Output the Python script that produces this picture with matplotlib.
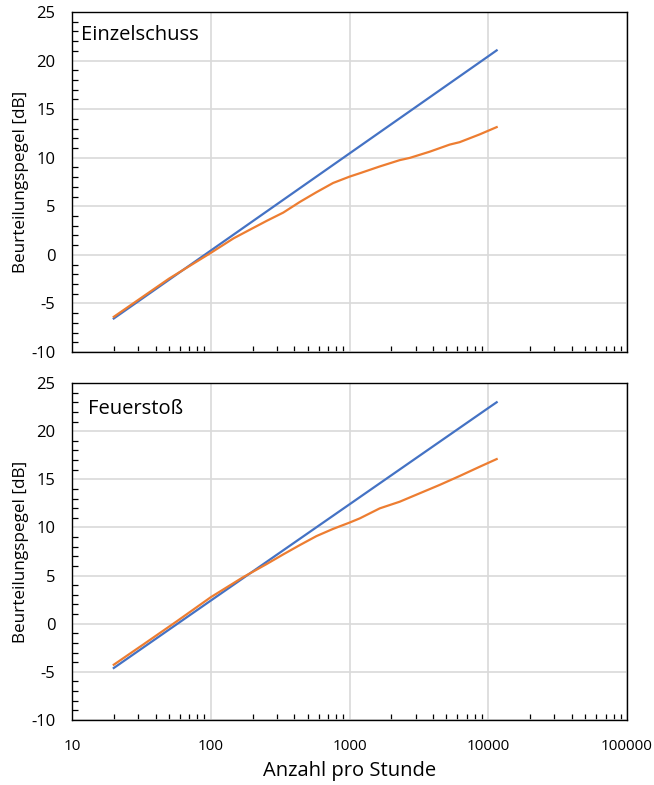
import matplotlib
matplotlib.use("Agg")
import matplotlib.pyplot as plt
from matplotlib.ticker import FixedLocator, LogLocator, MultipleLocator, NullFormatter

plt.rcParams['font.family'] = ['Open Sans', 'DejaVu Sans']
plt.rcParams['axes.unicode_minus'] = False

# ---- data ----
blue_x_top = [20, 100, 1000, 10000, 11500]
blue_y_top = [-6.55, 0.44, 10.44, 20.44, 21.05]
orange_x_top = [20, 50, 100, 146, 192, 253, 333, 439, 578, 762, 1000, 1186, 1652,
                2300, 2718, 3785, 5272, 6222, 8670, 11500]
orange_y_top = [-6.38, -2.45, 0.2, 1.7, 2.6, 3.5, 4.35, 5.45, 6.45, 7.4, 8.05, 8.4,
                9.1, 9.75, 9.98, 10.62, 11.35, 11.6, 12.4, 13.15]

blue_x_bot = [20, 100, 1000, 10000, 11500]
blue_y_bot = [-4.6, 2.4, 12.4, 22.4, 23.0]
orange_x_bot = [20, 32.7, 56.9, 100, 171, 253, 333, 439, 578, 762, 1000, 1186, 1652,
                2300, 3200, 4457, 6222, 8670, 11500]
orange_y_bot = [-4.26, -2.15, 0.25, 2.75, 4.83, 6.2, 7.2, 8.17, 9.1, 9.85, 10.5,
                10.94, 11.98, 12.67, 13.54, 14.41, 15.34, 16.3, 17.1]

titles = ["Einzelschuss", "Feuerstoß"]
title_pos = [(0.016, 0.932), (0.029, 0.923)]
y_label = "Beurteilungspegel [dB]"
x_label = "Anzahl pro Stunde"
x_ticks = [10, 100, 1000, 10000, 100000]
x_ticklabels = ["10", "100", "1000", "10000", "100000"]
y_ticks = [-10, -5, 0, 5, 10, 15, 20, 25]

BLUE = "#4472C4"
ORANGE = "#ED7D31"
GRID = "#D9D9D9"

fig = plt.figure(figsize=(6.54, 7.85), dpi=100)
ax1 = fig.add_axes([72/654, 1-352/785, 555/654, 340/785])
ax2 = fig.add_axes([72/654, 1-720/785, 555/654, 337/785])

panels = [
    (ax1, blue_x_top, blue_y_top, orange_x_top, orange_y_top, titles[0], title_pos[0]),
    (ax2, blue_x_bot, blue_y_bot, orange_x_bot, orange_y_bot, titles[1], title_pos[1]),
]
for ax, bx, by, ox, oy, title, tp in panels:
    ax.set_xscale('log')
    ax.set_xlim(10, 100000)
    ax.set_ylim(-10, 25)
    ax.plot(bx, by, color=BLUE, lw=1.6, zorder=3, solid_joinstyle='round')
    ax.plot(ox, oy, color=ORANGE, lw=1.6, zorder=3, solid_joinstyle='round')
    ax.set_yticks(y_ticks)
    ax.yaxis.set_minor_locator(MultipleLocator(1))
    ax.xaxis.set_major_locator(FixedLocator(x_ticks))
    ax.xaxis.set_minor_locator(LogLocator(base=10, subs=range(2, 10)))
    ax.xaxis.set_minor_formatter(NullFormatter())
    ax.grid(True, which='major', color=GRID, lw=1.2, zorder=0)
    ax.tick_params(which='major', length=0, colors='#000000')
    ax.tick_params(axis='y', which='major', pad=12, labelsize=12)
    ax.tick_params(axis='x', which='major', pad=14, labelsize=11)
    ax.tick_params(which='minor', direction='in', length=4.5, width=0.9, color='#000000')
    ax.tick_params(axis='both', which='minor', top=False, right=False)
    for s in ax.spines.values():
        s.set_color('#000000')
        s.set_linewidth(1.0)
    ax.set_ylabel(y_label, fontsize=12.3, labelpad=1.5)
    ax.text(tp[0], tp[1], title, transform=ax.transAxes, fontsize=14.5,
            ha='left', va='center')
    ax.set_axisbelow(True)

ax1.set_xticklabels([])
ax2.set_xticklabels(x_ticklabels)
ax2.set_xlabel(x_label, fontsize=14.5, labelpad=5)

fig.savefig("out.png", dpi=100)
